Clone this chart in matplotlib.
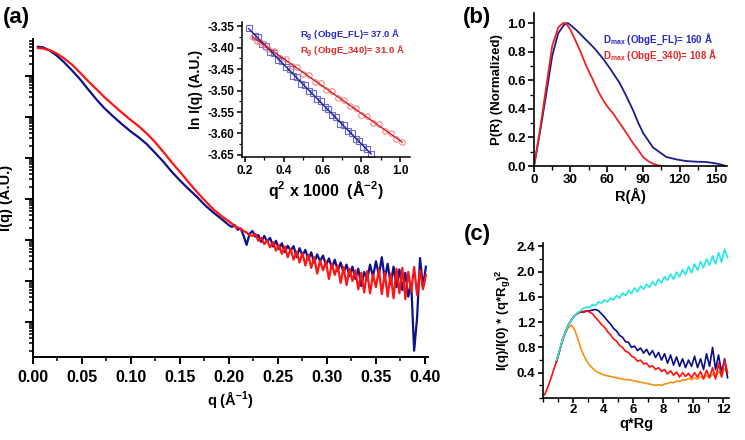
import numpy as np
import matplotlib
matplotlib.use("Agg")
import matplotlib.pyplot as plt
from matplotlib.ticker import MultipleLocator, LogLocator, NullFormatter, FormatStrFormatter

plt.rcParams['font.family'] = ['Liberation Sans', 'DejaVu Sans']
plt.rcParams['font.weight'] = 'bold'
plt.rcParams['axes.labelweight'] = 'bold'
plt.rcParams['mathtext.fontset'] = 'custom'
plt.rcParams['mathtext.rm'] = 'Liberation Sans:bold'
plt.rcParams['mathtext.bf'] = 'Liberation Sans:bold'
plt.rcParams['mathtext.it'] = 'Liberation Sans:bold'
plt.rcParams['mathtext.default'] = 'bf'

# ---------------- data: (a) scattering curves, log10 I(q) in A.U. ----------------
q_smooth = [0.005, 0.010, 0.017, 0.024, 0.031, 0.040, 0.048, 0.056, 0.065, 0.073,
            0.082, 0.090, 0.099, 0.108, 0.116, 0.124, 0.133, 0.141, 0.150, 0.158,
            0.167, 0.175, 0.184, 0.192, 0.200]
logI_fl_smooth = [7.71, 7.70, 7.62, 7.50, 7.35, 7.13, 6.92, 6.68, 6.42, 6.21,
                  6.01, 5.84, 5.66, 5.50, 5.34, 5.14, 4.91, 4.68, 4.45, 4.26,
                  4.06, 3.86, 3.67, 3.52, 3.36]
logI_340_smooth = [7.68, 7.67, 7.63, 7.55, 7.44, 7.27, 7.08, 6.88, 6.67, 6.48,
                   6.29, 6.12, 5.94, 5.77, 5.60, 5.40, 5.15, 4.91, 4.66, 4.43,
                   4.18, 3.97, 3.75, 3.59, 3.45]
q_noisy = np.round(np.arange(0.203, 0.4015, 0.003), 3)
logI_fl_noisy = [3.32, 3.36, 3.25, 3.28, 3.10, 2.88, 3.15, 3.22, 3.08, 3.12,
                 2.95, 3.10, 2.96, 3.05, 2.84, 2.98, 2.78, 2.92, 2.70, 2.86,
                 2.74, 2.85, 2.58, 2.80, 2.62, 2.76, 2.52, 2.70, 2.44, 2.65,
                 2.48, 2.62, 2.38, 2.55, 2.32, 2.52, 2.25, 2.45, 2.20, 2.40,
                 2.12, 2.35, 2.05, 2.30, 1.88, 2.22, 2.02, 2.40, 2.10, 2.48,
                 2.15, 2.58, 2.05, 2.42, 1.92, 2.35, 1.85, 2.28, 1.78, 2.20,
                 1.62, 1.95, 0.30, 1.10, 2.56, 1.85, 2.35]
logI_340_noisy = [3.40, 3.33, 3.30, 3.27, 3.22, 3.18, 3.12, 3.10, 3.15, 2.98,
                  3.05, 2.90, 2.99, 2.82, 2.95, 2.74, 2.88, 2.66, 2.84, 2.58,
                  2.78, 2.52, 2.72, 2.45, 2.68, 2.38, 2.64, 2.32, 2.58, 2.18,
                  2.50, 2.26, 2.48, 2.05, 2.42, 2.15, 2.38, 1.95, 2.34, 1.90,
                  2.30, 2.00, 2.26, 1.80, 2.20, 1.72, 2.24, 1.70, 2.16, 1.85,
                  2.28, 1.68, 2.20, 1.62, 2.18, 1.58, 2.30, 1.70, 2.32, 1.56,
                  2.22, 1.75, 2.34, 1.66, 2.26, 1.80, 2.15]

# (a) inset: Guinier plot
q2_fl = [0.22, 0.25, 0.27, 0.29, 0.31, 0.33, 0.35, 0.37, 0.39, 0.41, 0.43, 0.45,
         0.47, 0.49, 0.51, 0.53, 0.55, 0.57, 0.59, 0.61, 0.63, 0.65, 0.67, 0.69,
         0.71, 0.73, 0.75, 0.77, 0.79, 0.81, 0.83, 0.85]
lnI_fl = [-3.355, -3.372, -3.376, -3.391, -3.395, -3.409, -3.413, -3.428, -3.431,
          -3.446, -3.450, -3.465, -3.469, -3.484, -3.487, -3.502, -3.506, -3.520,
          -3.524, -3.539, -3.543, -3.558, -3.561, -3.577, -3.580, -3.595, -3.598,
          -3.614, -3.617, -3.632, -3.636, -3.648]
q2_340 = [0.24, 0.26, 0.28, 0.30, 0.32, 0.35, 0.38, 0.41, 0.44, 0.47, 0.50, 0.53,
          0.56, 0.59, 0.62, 0.65, 0.68, 0.71, 0.74, 0.77, 0.80, 0.83, 0.86, 0.89,
          0.92, 0.95, 0.98, 1.01]
lnI_340 = [-3.375, -3.384, -3.386, -3.391, -3.402, -3.407, -3.423, -3.426, -3.442,
           -3.445, -3.461, -3.464, -3.480, -3.483, -3.499, -3.502, -3.518, -3.521,
           -3.537, -3.541, -3.556, -3.560, -3.575, -3.579, -3.594, -3.598, -3.612,
           -3.620]

# (b) pair distance distribution
r_fl = [0, 5, 10, 15, 20, 25, 28, 35, 42, 49, 56, 62, 70.6, 76, 81.6, 86, 90, 98,
        109, 118, 125, 134, 142, 150, 155, 158]
p_fl = [0.0, 0.24, 0.50, 0.77, 0.93, 0.99, 1.0, 0.95, 0.89, 0.83, 0.76, 0.69,
        0.58, 0.49, 0.39, 0.30, 0.23, 0.13, 0.063, 0.045, 0.035, 0.030, 0.028,
        0.018, 0.008, 0.0]
r_340 = [0, 5, 10, 15, 20, 24, 26, 29.6, 34, 37.8, 43, 48.7, 53, 57, 61, 65, 69,
         73, 77, 81.6, 86, 89.8, 94, 98, 102, 106]
p_340 = [0.0, 0.26, 0.55, 0.84, 0.97, 1.0, 1.0, 0.96, 0.88, 0.81, 0.70, 0.60,
         0.52, 0.46, 0.41, 0.37, 0.32, 0.27, 0.22, 0.16, 0.11, 0.063, 0.035,
         0.016, 0.005, 0.0]

# (c) dimensionless Kratky plot
qrg = np.round(np.arange(0.1, 12.4, 0.2), 2)  # 0.1 ... 12.3
kr_340 = [0.05, 0.16, 0.29, 0.44,
          0.58, 0.75, 0.92, 1.05, 1.16, 1.24, 1.30, 1.34, 1.36, 1.37,
          1.38, 1.36, 1.33, 1.27, 1.22, 1.16, 1.12, 1.05, 1.00, 0.93,
          0.90, 0.83, 0.80, 0.74, 0.72, 0.66, 0.64, 0.58, 0.60, 0.54,
          0.55, 0.49, 0.51, 0.45, 0.48, 0.42, 0.45, 0.38, 0.43, 0.36,
          0.41, 0.33, 0.40, 0.34, 0.39, 0.32, 0.40, 0.33, 0.42, 0.30,
          0.44, 0.32, 0.48, 0.30, 0.55, 0.33, 0.60, 0.40]
kr_fl = [0.58, 0.75, 0.92, 1.05, 1.16, 1.24, 1.30, 1.34, 1.36, 1.36,
         1.37, 1.38, 1.39, 1.40, 1.38, 1.33, 1.28, 1.22, 1.17, 1.10,
         1.06, 0.99, 0.96, 0.89, 0.88, 0.80, 0.82, 0.75, 0.79, 0.71,
         0.77, 0.68, 0.75, 0.64, 0.72, 0.60, 0.70, 0.55, 0.68, 0.52,
         0.65, 0.50, 0.62, 0.48, 0.60, 0.50, 0.66, 0.48, 0.62, 0.45,
         0.70, 0.50, 0.80, 0.45, 0.68, 0.40, 0.62, 0.32]
kr_orange = [0.58, 0.74, 0.90, 1.03, 1.12, 1.15, 1.08, 0.95, 0.80, 0.68,
             0.59, 0.52, 0.47, 0.43, 0.40, 0.38, 0.36, 0.35, 0.34, 0.33,
             0.32, 0.31, 0.30, 0.29, 0.29, 0.28, 0.27, 0.26, 0.25, 0.24,
             0.23, 0.22, 0.21, 0.20, 0.21, 0.20, 0.22, 0.23, 0.25, 0.24,
             0.27, 0.26, 0.29, 0.28, 0.31, 0.29, 0.32, 0.30, 0.34, 0.31,
             0.36, 0.32, 0.38, 0.33, 0.42, 0.36, 0.46, 0.40]
kr_cyan = [0.60, 0.76, 0.92, 1.05, 1.16, 1.24, 1.30, 1.35, 1.38, 1.42,
           1.44, 1.43, 1.48, 1.46, 1.52, 1.50, 1.55, 1.52, 1.58, 1.55,
           1.62, 1.58, 1.66, 1.62, 1.70, 1.65, 1.74, 1.68, 1.77, 1.72,
           1.80, 1.75, 1.84, 1.78, 1.88, 1.82, 1.92, 1.86, 1.96, 1.88,
           1.99, 1.92, 2.03, 1.95, 2.08, 1.98, 2.12, 2.02, 2.16, 2.06,
           2.20, 2.10, 2.25, 2.12, 2.30, 2.15, 2.35, 2.22]

NAVY = '#10108a'
RED = '#ff1414'

fig = plt.figure(figsize=(7.45, 4.4), dpi=100)


def style_axes(ax, lw=1.4):
    ax.spines['top'].set_visible(False)
    ax.spines['right'].set_visible(False)
    ax.spines['left'].set_linewidth(lw)
    ax.spines['bottom'].set_linewidth(lw)
    ax.tick_params(which='major', direction='out', length=5, width=lw)
    ax.tick_params(which='minor', direction='out', length=3, width=lw * 0.8)


# ---------------- (a) ----------------
ax_a = fig.add_axes([0.0443, 0.1886, 0.530, 0.7227])
q_all = np.concatenate([q_smooth, q_noisy])
I_fl = 10 ** np.concatenate([logI_fl_smooth, logI_fl_noisy])
I_340 = 10 ** np.concatenate([logI_340_smooth, logI_340_noisy])
ax_a.plot(q_all, I_fl, color=NAVY, lw=1.6)
ax_a.plot(q_all, I_340, color=RED, lw=1.6)
ax_a.set_yscale('log')
ax_a.set_xlim(0, 0.403)
ax_a.set_ylim(10 ** 0.146, 10 ** 7.90)
ax_a.xaxis.set_major_locator(MultipleLocator(0.05))
ax_a.xaxis.set_minor_locator(MultipleLocator(0.025))
ax_a.xaxis.set_major_formatter(FormatStrFormatter('%.2f'))
ax_a.yaxis.set_major_locator(LogLocator(base=10, numticks=20))
ax_a.yaxis.set_minor_locator(LogLocator(base=10, subs=np.arange(2, 10), numticks=20))
ax_a.yaxis.set_major_formatter(NullFormatter())
ax_a.yaxis.set_minor_formatter(NullFormatter())
style_axes(ax_a)
ax_a.tick_params(axis='y', which='major', length=6)
ax_a.tick_params(axis='x', labelsize=11.5, pad=4)
ax_a.set_xlabel('q (Å$^{-1}$)', fontsize=10.5, labelpad=3)
ax_a.set_ylabel('I(q) (A.U.)', fontsize=10.5, labelpad=5)
fig.text(0.004, 0.985, '(a)', fontsize=16, fontweight='bold', va='top')

# inset
ax_in = fig.add_axes([0.3248, 0.643, 0.2255, 0.307])
ax_in.plot(q2_fl, lnI_fl, ls='none', marker='s', ms=4, mfc='none', mec='#6a6ad8', mew=0.8)
ax_in.plot(q2_340, lnI_340, ls='none', marker='o', ms=4, mfc='none', mec='#f08a8a', mew=0.8)
c_fl = np.polyfit(q2_fl, lnI_fl, 1)
c_340 = np.polyfit(q2_340, lnI_340, 1)
xf = np.array([q2_fl[0], q2_fl[-1]])
xr = np.array([q2_340[0], q2_340[-1]])
ax_in.plot(xf, np.polyval(c_fl, xf), color='#1c1c80', lw=1.0)
ax_in.plot(xr, np.polyval(c_340, xr), color='#d42020', lw=1.0)
ax_in.set_xlim(0.185, 1.05)
ax_in.set_ylim(-3.655, -3.34)
ax_in.xaxis.set_major_locator(MultipleLocator(0.2))
ax_in.xaxis.set_minor_locator(MultipleLocator(0.1))
ax_in.yaxis.set_major_locator(MultipleLocator(0.05))
ax_in.yaxis.set_minor_locator(MultipleLocator(0.025))
ax_in.xaxis.set_major_formatter(FormatStrFormatter('%.1f'))
ax_in.yaxis.set_major_formatter(FormatStrFormatter('%.2f'))
style_axes(ax_in, lw=1.1)
ax_in.tick_params(which='major', length=3.5, labelsize=8.5, pad=2)
ax_in.tick_params(which='minor', length=2)
ax_in.set_xlabel('q$^2$ x 1000  (Å$^{-2}$)', fontsize=11.5, labelpad=2)
ax_in.set_ylabel('ln I(q) (A.U.)', fontsize=10, labelpad=3)
ax_in.text(0.345, 0.895, 'R$_g$ (ObgE_FL)= 37.0 Å', transform=ax_in.transAxes,
           color='#2828c8', fontsize=6.8, fontweight='bold', va='center')
ax_in.text(0.345, 0.775, 'R$_g$ (ObgE_340)= 31.0 Å', transform=ax_in.transAxes,
           color='#e02828', fontsize=6.8, fontweight='bold', va='center')

# ---------------- (b) ----------------
ax_b = fig.add_axes([0.7168, 0.6227, 0.259, 0.3477])
ax_b.plot(r_fl, p_fl, color='#1c1c8c', lw=1.3)
ax_b.plot(r_340, p_340, color='#ee2222', lw=1.3)
ax_b.set_xlim(0, 159)
ax_b.set_ylim(0, 1.07)
ax_b.xaxis.set_major_locator(MultipleLocator(30))
ax_b.xaxis.set_minor_locator(MultipleLocator(15))
ax_b.yaxis.set_major_locator(MultipleLocator(0.2))
ax_b.yaxis.set_minor_locator(MultipleLocator(0.1))
ax_b.yaxis.set_major_formatter(FormatStrFormatter('%.1f'))
style_axes(ax_b, lw=1.2)
ax_b.tick_params(which='major', length=4, labelsize=9.5, pad=2)
ax_b.set_xlabel('R(Å)', fontsize=10.5, labelpad=1)
ax_b.set_ylabel('P(R) (Normalized)', fontsize=9.5, labelpad=3)
ax_b.text(0.36, 0.83, 'D$_{max}$ (ObgE_FL)= 160 Å', transform=ax_b.transAxes,
          color='#2828c8', fontsize=7, fontweight='bold', va='center')
ax_b.text(0.36, 0.72, 'D$_{max}$ (ObgE_340)= 108 Å', transform=ax_b.transAxes,
          color='#e02828', fontsize=7, fontweight='bold', va='center')
fig.text(0.621, 0.985, '(b)', fontsize=16, fontweight='bold', va='top')

# ---------------- (c) ----------------
ax_c = fig.add_axes([0.7289, 0.0955, 0.2497, 0.352])
ax_c.plot(qrg[4:], kr_orange, color='#f5900f', lw=1.2)
ax_c.plot(qrg[4:], kr_fl, color='#0c0c88', lw=1.2)
ax_c.plot(qrg, kr_340, color='#ff1010', lw=1.2)
ax_c.plot(qrg[4:], kr_cyan, color='#22e8e8', lw=1.2)
ax_c.set_xlim(0, 12.4)
ax_c.set_ylim(0, 2.45)
ax_c.set_xticks([2, 4, 6, 8, 10, 12])
ax_c.xaxis.set_minor_locator(MultipleLocator(1))
ax_c.set_yticks([0.4, 0.8, 1.2, 1.6, 2.0, 2.4])
ax_c.yaxis.set_minor_locator(MultipleLocator(0.2))
ax_c.yaxis.set_major_formatter(FormatStrFormatter('%.1f'))
style_axes(ax_c, lw=1.2)
ax_c.tick_params(which='major', length=3.5, labelsize=9.5, pad=2)
ax_c.tick_params(axis='x', which='major', pad=0.5)
ax_c.set_xlabel('q*Rg', fontsize=10.5, labelpad=1)
ax_c.set_ylabel('I(q)/I(0) * (q*R$_g$)$^2$', fontsize=9.5, labelpad=3)
fig.text(0.623, 0.49, '(c)', fontsize=16, fontweight='bold', va='top')

fig.savefig('out.png', dpi=100)
